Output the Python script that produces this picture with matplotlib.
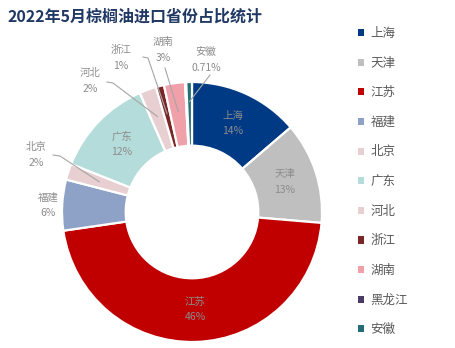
import numpy as np
import matplotlib
matplotlib.use("Agg")
import matplotlib.pyplot as plt
from matplotlib.patches import Patch

plt.rcParams['font.family'] = ['Noto Sans CJK SC', 'DejaVu Sans']

# data (share of palm oil imports, May 2022)
provinces = ['上海', '天津', '江苏', '福建', '北京', '广东', '河北', '浙江', '湖南', '黑龙江', '安徽']
shares = [13.7, 12.6, 46.3, 6.3, 2.0, 12.4, 2.1, 1.0, 2.6, 0.15, 0.71]
pct_labels = ['14%', '13%', '46%', '6%', '2%', '12%', '2%', '1%', '3%', '', '0.71%']
colors = ['#003A84', '#BFBFBF', '#C00000', '#8EA2C8', '#E8CFD1', '#B4DCDA',
          '#E8CFD1', '#7B2626', '#F0A0A9', '#4A3B66', '#236D78']

W, H = 455, 348
fig = plt.figure(figsize=(W / 100, H / 100), dpi=100)
cx, cy, R = 192, 212, 130
ax = fig.add_axes([(cx - R) / W, (H - cy - R) / H, 2 * R / W, 2 * R / H])

wedges, _ = ax.pie(shares, colors=colors, startangle=90, counterclock=False,
                   radius=1.0, wedgeprops=dict(width=0.49, edgecolor='white', linewidth=1.6))
ax.set_xlim(-1, 1)
ax.set_ylim(-1, 1)
ax.axis('off')

lab_color = '#8C8C8C'
fs = 7.5

def mid_angle(w):
    return np.deg2rad((w.theta1 + w.theta2) / 2)

# labels inside the ring
for i in [0, 1, 2, 5]:
    a = mid_angle(wedges[i])
    x, y = 0.75 * np.cos(a), 0.75 * np.sin(a)
    ax.text(x, y, provinces[i] + '\n' + pct_labels[i], ha='center', va='center',
            fontsize=fs, color=lab_color, linespacing=1.7)

# labels outside with leader lines: (index, label pos px, line start px, kink px, radius)
def to_data(px, py):
    return (px - cx) / R, (cy - py) / R

outside = [
    (3, (48, 205), None, None, 0.0),
    (4, (36, 155), (53, 155), (60, 156), 0.75),
    (6, (90, 81), (107, 82), (113, 83), 0.78),
    (7, (121, 58), (143, 57), (148, 58), 0.78),
    (8, (163, 50), (165, 68), None, 0.78),
    (10, (206, 60), (210, 75), None, 0.85),
]
for i, lp, p1, p2, r in outside:
    tx, ty = to_data(*lp)
    ax.text(tx, ty, provinces[i] + '\n' + pct_labels[i], ha='center', va='center',
            fontsize=fs, color=lab_color, linespacing=1.7)
    if p1 is None:
        continue
    a = mid_angle(wedges[i])
    pts = [to_data(*p1)]
    if p2 is not None:
        pts.append(to_data(*p2))
    pts.append((r * np.cos(a), r * np.sin(a)))
    xs, ys = zip(*pts)
    ax.plot(xs, ys, color='#A6A6A6', lw=0.8, clip_on=False)

fig.text(8 / W, 1 - 17 / H, '2022年5月棕榈油进口省份占比统计', ha='left', va='center',
         fontsize=11.5, fontweight='bold', color='#1F3864')

handles = [Patch(facecolor=c, edgecolor='none') for c in colors]
leg = fig.legend(handles, provinces, loc='upper left', bbox_to_anchor=(358 / W, 1 - 27 / H),
                 frameon=False, fontsize=9, handlelength=0.5, handleheight=0.5,
                 handletextpad=0.5, labelspacing=1.33, borderaxespad=0, borderpad=0)
for t in leg.get_texts():
    t.set_color('#595959')

fig.savefig('out.png', dpi=100)
